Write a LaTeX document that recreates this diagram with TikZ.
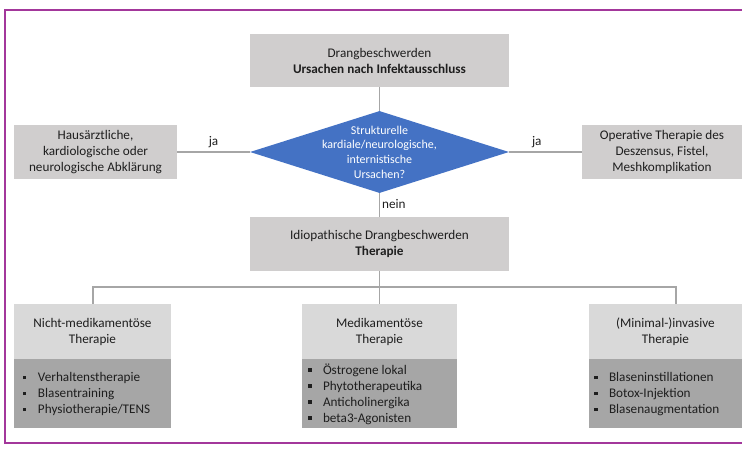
\documentclass[tikz,border=0pt]{standalone}
\usepackage{fontspec}
\setmainfont{Carlito}
\usetikzlibrary{shapes.geometric}
\definecolor{framec}{HTML}{A3379B}
\definecolor{topgray}{HTML}{D0CECE}
\definecolor{hdgray}{HTML}{D9D9D9}
\definecolor{bdgray}{HTML}{A6A6A6}
\definecolor{linegray}{HTML}{A6A6A6}
\definecolor{dblue}{HTML}{4472C4}
\definecolor{txt}{HTML}{1E1E1E}
\newcommand{\sqb}{\makebox[15pt][l]{\rule[2.2pt]{3.5pt}{3.5pt}}}
\begin{document}
\begin{tikzpicture}[x=1pt,y=1pt,
  font=\fontsize{13.2}{16}\selectfont,
  every node/.style={text=txt},
  gbox/.style={fill=topgray, minimum height=54pt, inner sep=0pt, align=center},
  hbox/.style={fill=hdgray, minimum height=55pt, inner sep=0pt, align=center},
  bbox/.style={fill=bdgray, minimum height=69pt, inner sep=0pt},
  lst/.style={align=left, inner sep=0pt, font=\fontsize{13.2}{16}\selectfont, anchor=west},
  conn/.style={draw=linegray, line width=1.4pt},
  lbl/.style={inner sep=1pt}]
\useasboundingbox (0,0) rectangle (742,448);
\clip (0,0) rectangle (742,448);
\draw[framec, line width=2.5pt] (5,5) rectangle (780,438);

% top
\node[gbox, minimum width=259pt, minimum height=53pt] (tb) at (379.5,387.5)
  {Drangbeschwerden\\\textbf{Ursachen nach Infektausschluss}};
\node[diamond, fill=dblue, minimum width=259pt, minimum height=82pt, inner sep=0pt] (d) at (379.5,296) {};
\node[align=center, text=white, inner sep=0pt, font=\fontsize{12}{14.7}\selectfont] (dt) at (d.center)
  {Strukturelle\\kardiale/neurologische,\\internistische\\Ursachen?};
\node[gbox, minimum width=163pt] (lb) at (95.5,296)
  {Hausärztliche,\\kardiologische oder\\neurologische Abklärung};
\node[gbox, minimum width=160pt] (rb) at (662,296)
  {Operative Therapie des\\Deszensus, Fistel,\\Meshkomplikation};
\node[gbox, minimum width=259pt] (mb) at (379.5,204)
  {Idiopathische Drangbeschwerden\\\textbf{Therapie}};

\draw[conn] (tb.south) -- (d.north);
\draw[conn] (lb.east) -- node[lbl, above, pos=0.5, yshift=3pt] {ja} (d.west);
\draw[conn] (d.east) -- node[lbl, above, pos=0.38, yshift=3pt] {ja} (rb.west);
\draw[conn] (d.south) -- node[lbl, right, pos=0.45, xshift=1pt] {nein} (mb.north);

% bottom boxes
\node[hbox, minimum width=157pt] (lh) at (92.5,116.5) {Nicht-medikamentöse\\Therapie};
\node[bbox, minimum width=157pt, anchor=north] (lbd) at (lh.south) {};
\node[hbox, minimum width=155pt] (mh) at (379.5,116.5) {Medikamentöse\\Therapie};
\node[bbox, minimum width=155pt, anchor=north] (mbd) at (mh.south) {};
\node[hbox, minimum width=153pt] (rh) at (665.5,116.5) {(Minimal-)invasive\\Therapie};
\node[bbox, minimum width=153pt, anchor=north] (rbd) at (rh.south) {};

\node[lst] (ll) at ([xshift=9pt]lbd.west)
  {\sqb Verhaltenstherapie\\\sqb Blasentraining\\\sqb Physiotherapie/TENS};
\node[lst] (ml) at ([xshift=6pt]mbd.west)
  {\sqb Östrogene lokal\\\sqb Phytotherapeutika\\\sqb Anticholinergika\\\sqb beta3-Agonisten};
\node[lst] (rl) at ([xshift=5pt]rbd.west)
  {\sqb Blaseninstillationen\\\sqb Botox-Injektion\\\sqb Blasenaugmentation};

% bus
\coordinate (busL) at (93,161);
\coordinate (busR) at (676,161);
\draw[conn] (mb.south) -- (mh.north);
\draw[conn] (lh.north -| busL) -- (busL) -- (busR) -- (rh.north -| busR);
\end{tikzpicture}
\end{document}
